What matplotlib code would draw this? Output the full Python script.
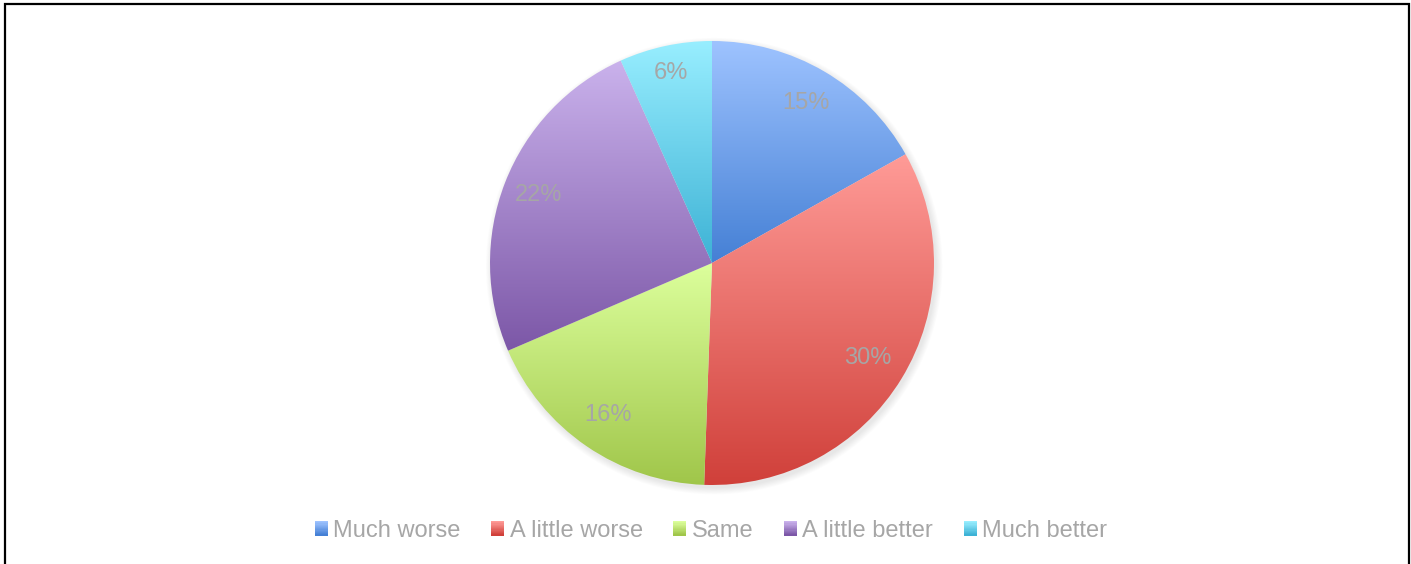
import numpy as np
import matplotlib
matplotlib.use("Agg")
import matplotlib.pyplot as plt
from matplotlib.colors import to_rgba
from matplotlib.patches import Rectangle, Circle
from matplotlib.legend_handler import HandlerBase

plt.rcParams['font.family'] = ['Liberation Sans', 'DejaVu Sans']

# Survey responses
categories = ["Much worse", "A little worse", "Same", "A little better", "Much better"]
values = [15, 30, 16, 22, 6]
labels = ["15%", "30%", "16%", "22%", "6%"]

# Light (top) and dark (bottom) shade of each slice's vertical gradient
top_colors = ["#9EC3FF", "#FF9B97", "#DCFF9C", "#CAB2EC", "#98EEFF"]
bottom_colors = ["#4580D5", "#D0403A", "#A0C64A", "#7C57A7", "#3DB2D5"]

# radial distance of each percentage label (fraction of the radius)
label_dist = [0.836, 0.82, 0.83, 0.84, 0.875]

TEXT_GRAY = "#A6A6A6"

W, H, DPI = 1411, 564, 100
fig = plt.figure(figsize=(W / DPI, H / DPI), dpi=DPI)

cx, cy, R = 712, 263, 222
ax = fig.add_axes([(cx - R) / W, (H - cy - R) / H, 2 * R / W, 2 * R / H])
ax.set_xlim(-1, 1)
ax.set_ylim(-1, 1)
ax.axis("off")


def gradient(c_top, c_bot, n=256):
    t = np.linspace(0, 1, n)[:, None]
    a = np.array(to_rgba(c_top))
    b = np.array(to_rgba(c_bot))
    return (a * (1 - t) + b * t)[:, None, :]


# soft drop shadow under the pie
for i in range(8):
    ax.add_patch(Circle((0.01, -0.014), 1.0 + 0.004 * i, color="#808080",
                        alpha=0.025, lw=0, zorder=0, clip_on=False))

wedges, texts = ax.pie(values, labels=labels, startangle=90, counterclock=False,
                       radius=1, labeldistance=0.83,
                       wedgeprops=dict(linewidth=0),
                       textprops=dict(color=TEXT_GRAY, fontsize=17,
                                      ha="center", va="center"))
ax.set_xlim(-1, 1)
ax.set_ylim(-1, 1)

for w, ct, cb in zip(wedges, top_colors, bottom_colors):
    th = np.radians(np.linspace(w.theta1, w.theta2, 200))
    ys = np.concatenate([np.sin(th), [0.0]])
    y0, y1 = ys.min(), ys.max()
    w.set_facecolor("none")
    im = ax.imshow(gradient(ct, cb), extent=(-1, 1, y0, y1), origin="upper",
                   aspect="auto", interpolation="bilinear", zorder=1)
    im.set_clip_path(w)

for w, t, d in zip(wedges, texts, label_dist):
    mid = np.radians(0.5 * (w.theta1 + w.theta2))
    t.set_position((d * np.cos(mid), d * np.sin(mid)))
    t.set_zorder(3)


class GradientHandler(HandlerBase):
    def __init__(self, c_top, c_bot, **kw):
        super().__init__(**kw)
        self.c_top, self.c_bot = c_top, c_bot

    def create_artists(self, legend, orig_handle, xdescent, ydescent,
                       width, height, fontsize, trans):
        n = 12
        g = gradient(self.c_top, self.c_bot, n)[:, 0, :]
        arts = []
        for k in range(n):
            yb = -ydescent + height * (n - 1 - k) / n
            arts.append(Rectangle((-xdescent, yb), width, height / n + 0.3,
                                  facecolor=g[k], edgecolor="none",
                                  transform=trans))
        return arts


handles = [Rectangle((0, 0), 1, 1) for _ in categories]
hmap = {h: GradientHandler(ct, cb) for h, ct, cb in zip(handles, top_colors, bottom_colors)}
leg = fig.legend(handles, categories, handler_map=hmap, ncol=5,
                 loc="center", bbox_to_anchor=(711 / W, 1 - 531 / H),
                 frameon=False, fontsize=17, labelcolor=TEXT_GRAY,
                 handlelength=0.55, handleheight=0.55, handletextpad=0.22,
                 columnspacing=1.3, borderpad=0, borderaxespad=0)

# outer frame
fig.add_artist(Rectangle((4.5 / W, -0.05), (1408.5 - 4.5) / W, 1.05 - 3.5 / H,
                         transform=fig.transFigure, fill=False,
                         edgecolor="black", linewidth=1.6, clip_on=False))

fig.savefig("out.png", dpi=DPI, facecolor="white")
